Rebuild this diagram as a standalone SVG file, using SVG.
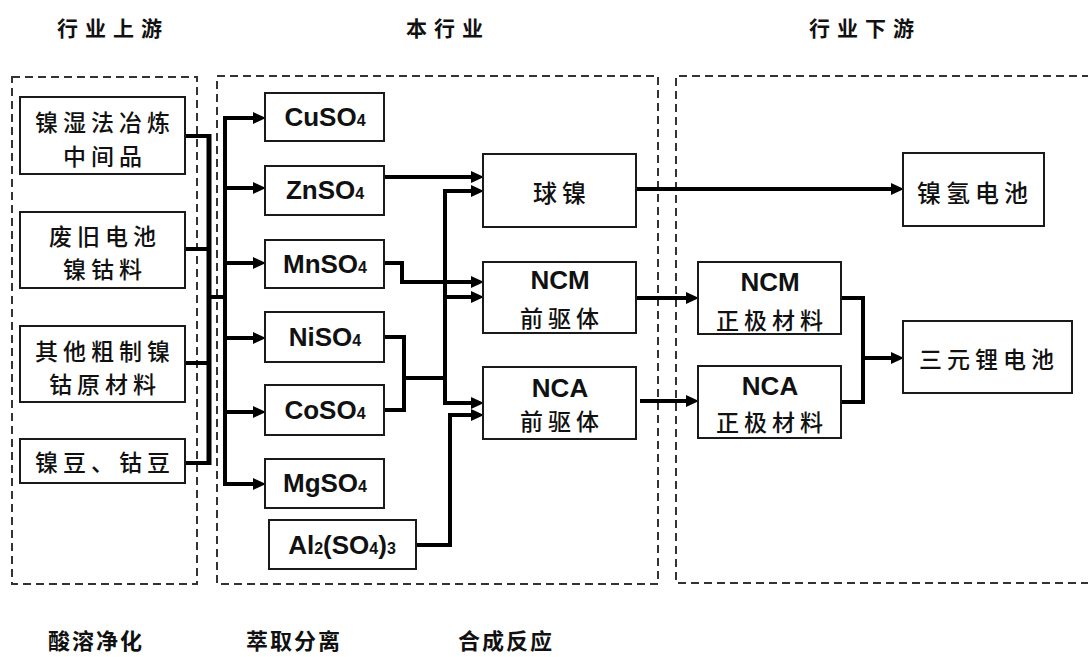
<svg xmlns="http://www.w3.org/2000/svg" width="1088" height="657" viewBox="0 0 1088 657">
<style>
.bg{fill:#fff}
.box{fill:#fff;stroke:#1a1a1a;stroke-width:2}
.dash{fill:none;stroke:#333;stroke-width:2;stroke-dasharray:8 5}
.ln{fill:none;stroke:#000;stroke-width:4}
.ar{fill:none;stroke:#000;stroke-width:4;marker-end:url(#ah)}
.ch{font-family:"Noto Sans CJK SC","Noto Sans CJK JP",sans-serif;font-size:23px;font-weight:500;letter-spacing:5px;fill:#111;text-anchor:middle;dominant-baseline:central}
.tt{font-family:"Noto Sans CJK SC","Noto Sans CJK JP",sans-serif;font-size:21px;font-weight:bold;letter-spacing:7px;fill:#111;text-anchor:middle;dominant-baseline:central}
.bt{font-family:"Noto Sans CJK SC","Noto Sans CJK JP",sans-serif;font-size:22px;font-weight:bold;letter-spacing:2px;fill:#111;text-anchor:middle;dominant-baseline:central}
.fm{font-family:"Liberation Sans",Arial,sans-serif;font-size:26px;font-weight:bold;fill:#111;text-anchor:middle}
.sb{font-size:16px}
</style>
<defs>
<marker id="ah" markerUnits="userSpaceOnUse" markerWidth="14" markerHeight="14" refX="8" refY="6" orient="auto">
<path d="M0,0 L13,6 L0,12 z" fill="#000"/>
</marker>
</defs>
<rect class="bg" x="0" y="0" width="1088" height="657"/>

<g id="regions">
<rect class="dash" x="12" y="77" width="185" height="507"/>
<rect class="dash" x="217" y="76" width="441" height="508"/>
<path class="dash" d="M1090,76 H676 V583 H1090"/>
</g>

<g id="titles">
<text class="tt" x="113" y="27">行业上游</text>
<text class="tt" x="448" y="27">本行业</text>
<text class="tt" x="865" y="27">行业下游</text>
<text class="bt" x="96" y="639">酸溶净化</text>
<text class="bt" x="294" y="639">萃取分离</text>
<text class="bt" x="506" y="639">合成反应</text>
</g>

<g id="connectors">
<path class="ln" d="M185,136 H209 M185,249 H209 M185,363 H209 M185,463 H209"/>
<path class="ln" d="M209,134 V465" style="stroke-width:5"/>
<path class="ln" d="M209,297 H225"/>
<path class="ln" d="M225,116 V486" style="stroke-width:4"/>
<path class="ar" d="M223,118 H261"/>
<path class="ar" d="M225,188 H261"/>
<path class="ar" d="M225,263 H261"/>
<path class="ar" d="M225,338 H261"/>
<path class="ar" d="M225,412 H261"/>
<path class="ar" d="M223,484 H261"/>

<path class="ar" d="M384,177 H479"/>
<path class="ln" d="M445,189 V405"/>
<path class="ar" d="M443,191 H479"/>
<path class="ar" d="M445,297 H479"/>
<path class="ar" d="M443,403 H479"/>
<path class="ln" d="M384,337 H404 V410 H384"/>
<path class="ln" d="M404,378 H445"/>
<path class="ar" d="M384,263 H402 V282 H479"/>
<path class="ar" d="M416,545 H450 V415 H479"/>

<path class="ar" d="M636,189 H899"/>
<path class="ar" d="M636,298 H694"/>
<path class="ar" d="M640,401 H694"/>
<path class="ln" d="M841,298 H863 V402 H841"/>
<path class="ar" d="M863,358 H899"/>
</g>

<g id="n-ni-wet">
<rect class="box" x="20" y="97" width="165" height="77"/>
<text class="ch" x="105" y="121">镍湿法冶炼</text>
<text class="ch" x="105" y="155">中间品</text>
</g>
<g id="n-waste">
<rect class="box" x="20" y="212" width="165" height="76"/>
<text class="ch" x="105" y="235">废旧电池</text>
<text class="ch" x="105" y="268">镍钴料</text>
</g>
<g id="n-other">
<rect class="box" x="20" y="326" width="165" height="76"/>
<text class="ch" x="105" y="350">其他粗制镍</text>
<text class="ch" x="105" y="383">钴原材料</text>
</g>
<g id="n-beans">
<rect class="box" x="20" y="439" width="165" height="44"/>
<text class="ch" x="105" y="461">镍豆、钴豆</text>
</g>

<g id="n-cuso4">
<rect class="box" x="265" y="93" width="119" height="48"/>
<text class="fm" x="325" y="126">CuSO<tspan class="sb">4</tspan></text>
</g>
<g id="n-znso4">
<rect class="box" x="265" y="166" width="119" height="49"/>
<text class="fm" x="325" y="199">ZnSO<tspan class="sb">4</tspan></text>
</g>
<g id="n-mnso4">
<rect class="box" x="265" y="240" width="119" height="48"/>
<text class="fm" x="325" y="273">MnSO<tspan class="sb">4</tspan></text>
</g>
<g id="n-niso4">
<rect class="box" x="265" y="312" width="119" height="50"/>
<text class="fm" x="325" y="346">NiSO<tspan class="sb">4</tspan></text>
</g>
<g id="n-coso4">
<rect class="box" x="265" y="385" width="119" height="50"/>
<text class="fm" x="325" y="419">CoSO<tspan class="sb">4</tspan></text>
</g>
<g id="n-mgso4">
<rect class="box" x="265" y="459" width="119" height="49"/>
<text class="fm" x="325" y="492">MgSO<tspan class="sb">4</tspan></text>
</g>
<g id="n-al2so43">
<rect class="box" x="269" y="520" width="147" height="49"/>
<text class="fm" x="342" y="554">Al<tspan class="sb">2</tspan>(SO<tspan class="sb">4</tspan>)<tspan class="sb">3</tspan></text>
</g>

<g id="n-qiunie">
<rect class="box" x="483" y="154" width="153" height="73"/>
<text class="ch" x="562" y="191" style="font-size:24px">球镍</text>
</g>
<g id="n-ncm-pre">
<rect class="box" x="483" y="262" width="153" height="71"/>
<text class="fm" x="560" y="289">NCM</text>
<text class="ch" x="562" y="317">前驱体</text>
</g>
<g id="n-nca-pre">
<rect class="box" x="483" y="367" width="153" height="72"/>
<text class="fm" x="560" y="397">NCA</text>
<text class="ch" x="562" y="420">前驱体</text>
</g>

<g id="n-nimh">
<rect class="box" x="903" y="153" width="141" height="73"/>
<text class="ch" x="975" y="191" style="font-size:24px">镍氢电池</text>
</g>
<g id="n-ncm-cat">
<rect class="box" x="698" y="262" width="143" height="72"/>
<text class="fm" x="770" y="291">NCM</text>
<text class="ch" x="772" y="319">正极材料</text>
</g>
<g id="n-nca-cat">
<rect class="box" x="698" y="366" width="143" height="72"/>
<text class="fm" x="770" y="395">NCA</text>
<text class="ch" x="772" y="421">正极材料</text>
</g>
<g id="n-ternary">
<rect class="box" x="903" y="321" width="169" height="72"/>
<text class="ch" x="989" y="358">三元锂电池</text>
</g>
</svg>
